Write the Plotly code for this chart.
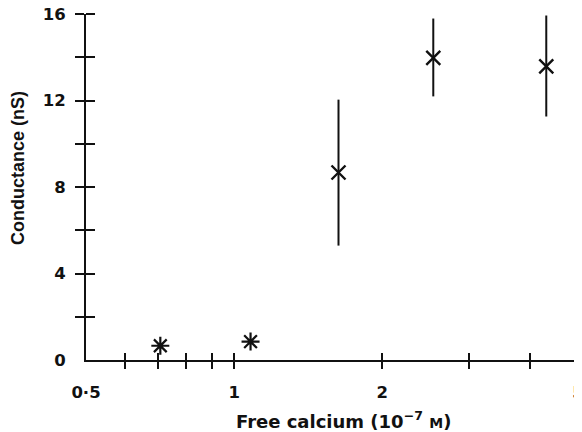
import math
import plotly.graph_objects as go

# Data
calcium_low = [0.708, 1.08]           # 10^-7 M
conduct_low = [0.66, 0.85]            # nS
calcium_hi = [1.63, 2.54, 4.31]
conduct_hi = [8.67, 13.97, 13.58]
err_plus = [3.37, 1.82, 2.35]
err_minus = [3.38, 1.78, 2.32]

x_labelvals = [0.5, 1, 2, 5]
x_labeltext = ["0·5", "1", "2", "5"]
x_tickmarks = [0.6, 0.7, 0.8, 0.9, 1, 2, 3, 4, 5]
y_labelvals = [0, 4, 8, 12, 16]
y_tickmarks = [2, 4, 6, 8, 10, 12, 14, 16]

TICKFONT = "DejaVu Sans, Verdana, sans-serif"
TITLEFONT = "Liberation Sans, Arial, sans-serif"
black = "#111111"

fig = go.Figure()
fig.add_trace(go.Scatter(
    x=calcium_low, y=conduct_low, mode="markers",
    marker=dict(symbol="asterisk-open", size=15, line=dict(width=2.2, color=black), color=black),
    showlegend=False, cliponaxis=False))
fig.add_trace(go.Scatter(
    x=calcium_hi, y=conduct_hi, mode="markers",
    marker=dict(symbol="x-thin-open", size=14, line=dict(width=2.4, color=black), color=black),
    error_y=dict(type="data", symmetric=False, array=err_plus, arrayminus=err_minus,
                 width=0, thickness=2, color=black),
    showlegend=False, cliponaxis=False))
# empty trace on the overlay axes (inside half of the crossing ticks)
fig.add_trace(go.Scatter(x=[], y=[], xaxis="x2", yaxis="y2", showlegend=False))

xr = [math.log10(0.5), math.log10(5)]

# page body has an 8px margin, so the figure is sized to fit the window after it
fig.update_layout(
    width=574, height=424,
    margin=dict(l=78, r=4, t=6, b=72),
    paper_bgcolor="white", plot_bgcolor="white",
    font=dict(family=TICKFONT, color=black),
    xaxis=dict(type="log", range=xr, automargin=False, showgrid=False, zeroline=False,
               tickvals=x_labelvals, ticktext=x_labeltext, ticks="",
               ticklabelstandoff=16, ticklabeloverflow="allow",
               tickfont=dict(size=16.5, family=TICKFONT, weight="bold", color=black),
               minor=dict(tickvals=x_tickmarks, ticks="outside", ticklen=7,
                          tickwidth=2, tickcolor=black, showgrid=False),
               showline=True, linewidth=2, linecolor=black),
    yaxis=dict(range=[0, 16], automargin=False, showgrid=False, zeroline=False,
               tickvals=y_labelvals, ticks="",
               ticklabelstandoff=15, ticklabeloverflow="allow",
               tickfont=dict(size=16.5, family=TICKFONT, weight="bold", color=black),
               minor=dict(tickvals=y_tickmarks, ticks="outside", ticklen=9,
                          tickwidth=2, tickcolor=black, showgrid=False),
               showline=True, linewidth=2, linecolor=black),
    xaxis2=dict(type="log", range=xr, overlaying="x", anchor="y2", side="bottom",
                automargin=False, showgrid=False, zeroline=False, showticklabels=False,
                tickvals=[], ticks="",
                minor=dict(tickvals=x_tickmarks, ticks="inside", ticklen=7,
                           tickwidth=2, tickcolor=black, showgrid=False)),
    yaxis2=dict(range=[0, 16], overlaying="y", anchor="x2", side="left",
                automargin=False, showgrid=False, zeroline=False, showticklabels=False,
                tickvals=[], ticks="",
                minor=dict(tickvals=y_tickmarks, ticks="inside", ticklen=9,
                           tickwidth=2, tickcolor=black, showgrid=False)),
    annotations=[
        dict(text="Free calcium (10<sup>−7</sup> <span style='font-size:14px'>M</span>)",
             xref="paper", yref="paper", x=0.524, y=0, xanchor="center", yanchor="middle",
             yshift=-60, showarrow=False,
             font=dict(size=18, family=TICKFONT, weight="bold", color=black)),
        dict(text="Conductance (nS)", textangle=-90,
             xref="paper", yref="paper", x=0, y=0.555, xanchor="center", yanchor="middle",
             xshift=-68, showarrow=False,
             font=dict(size=18, family=TITLEFONT, weight="bold", color=black)),
    ],
)

fig.write_html("out.html")
